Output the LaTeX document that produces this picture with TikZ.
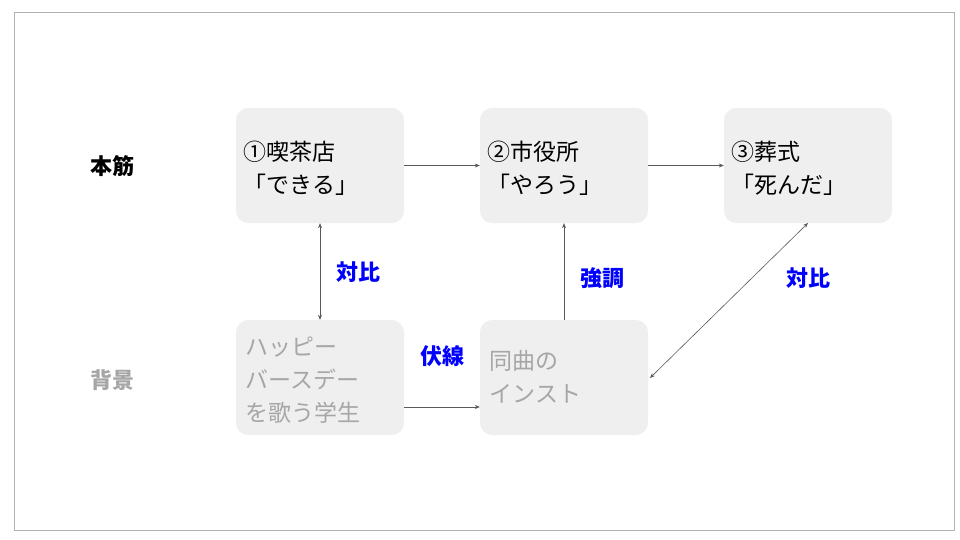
\documentclass[tikz,border=0pt]{standalone}
\usepackage{fontspec}
\setmainfont{Noto Sans CJK JP}
\usetikzlibrary{arrows.meta}
\definecolor{boxfill}{HTML}{EFEFEF}
\definecolor{dimtext}{HTML}{A6A6A6}
\definecolor{lblue}{HTML}{0000FF}
\tikzset{
  card/.style={fill=boxfill, rounded corners=12pt, minimum width=168pt, minimum height=115pt, inner sep=0pt},
  cardtext/.style={anchor=west, align=left, font=\fontsize{23pt}{33pt}\selectfont},
  conn/.style={draw=black!65, line width=0.6pt, -{Stealth[length=5pt,width=4pt]}},
  biconn/.style={draw=black!65, line width=0.6pt, {Stealth[length=5pt,width=4pt]}-{Stealth[length=5pt,width=4pt]}},
  lbl/.style={text=lblue, font=\bfseries\fontsize{22pt}{26pt}\selectfont},
  rowlbl/.style={font=\bfseries\fontsize{22pt}{26pt}\selectfont}
}
\begin{document}
\begin{tikzpicture}[x=1pt,y=-1pt]
\useasboundingbox (0,0) rectangle (960,540);
\draw[black!30, line width=0.8pt] (14,12) rectangle (954,530);
\node[card] (b1) at (320,165.5) {};
\node[card] (b2) at (564,165.5) {};
\node[card] (b3) at (808,165.5) {};
\node[card] (b4) at (320,377.5) {};
\node[card] (b5) at (564,377.5) {};
\node[cardtext] (t1) at (240,168) {①喫茶店\\「できる」};
\node[cardtext] (t2) at (484,168) {②市役所\\「やろう」};
\node[cardtext] (t3) at (728,168) {③葬式\\「死んだ」};
\node[cardtext, text=dimtext] (t4) at (242,380) {ハッピー\\バースデー\\を歌う学生};
\node[cardtext, text=dimtext] (t5) at (486,377) {同曲の\\インスト};
\node[rowlbl] (r1) at (112,166) {本筋};
\node[rowlbl, text=dimtext] (r2) at (112,380) {背景};
\draw[conn] (b1.east) -- (b2.west);
\draw[conn] (b2.east) -- (b3.west);
\draw[biconn] (b1.south) -- (b4.north);
\draw[conn] (b5.north) -- (b2.south);
\draw[conn] (b4.east |- 0,407) -- (b5.west |- 0,407);
\coordinate (d1) at (650,378);
\coordinate (d2) at (808,223);
\draw[biconn] (d1) -- (d2);
\node[lbl] (l1) at (358,272) {対比};
\node[lbl] (l2) at (602,278) {強調};
\node[lbl] (l3) at (808,278) {対比};
\node[lbl] (l4) at (442,356) {伏線};
\end{tikzpicture}
\end{document}
